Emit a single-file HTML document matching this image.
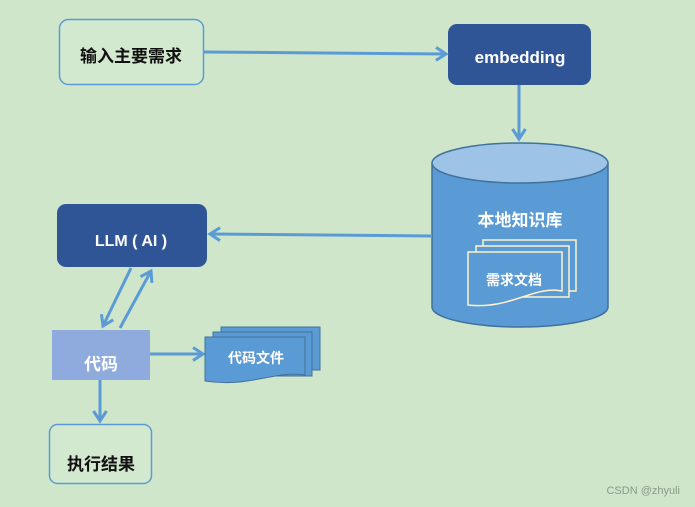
<!DOCTYPE html>
<html><head><meta charset="utf-8"><style>
html,body{margin:0;padding:0;background:#cfe6cb;}
svg{display:block}
text{font-family:"Liberation Sans","Noto Sans CJK SC",sans-serif;font-weight:bold;}
</style></head><body>
<svg width="695" height="507" viewBox="0 0 695 507" xmlns="http://www.w3.org/2000/svg">
<defs>
<marker id="a" markerWidth="14" markerHeight="16" refX="11" refY="8" orient="auto" markerUnits="userSpaceOnUse">
<path d="M1,1.5 L11,8 L1,14.5" fill="none" stroke="#5b9bd5" stroke-width="3"/>
</marker>
</defs>
<rect width="695" height="507" fill="#cfe6cb"/>
<rect x="59.5" y="19.5" width="144" height="65" rx="9" fill="#d3e9cf" stroke="#5b9bd5" stroke-width="1.5"/>
<text x="131" y="62" font-size="17" text-anchor="middle" fill="#111">输入主要需求</text>
<rect x="448" y="24" width="143" height="61" rx="9" fill="#2f5597"/>
<text x="520" y="63" font-size="17" text-anchor="middle" fill="#fff">embedding</text>
<line x1="204" y1="52" x2="446" y2="54" stroke="#5b9bd5" stroke-width="3" marker-end="url(#a)"/>
<line x1="519" y1="85" x2="519" y2="139" stroke="#5b9bd5" stroke-width="3" marker-end="url(#a)"/>
<path d="M432,163 L432,307 A88,20 0 0 0 608,307 L608,163" fill="#5b9bd5" stroke="#41719c" stroke-width="1.5"/>
<ellipse cx="520" cy="163" rx="88" ry="20" fill="#9dc3e6" stroke="#41719c" stroke-width="1.5"/>
<text x="520" y="226" font-size="17" text-anchor="middle" fill="#fff">本地知识库</text>
<g fill="#5b9bd5" stroke="#fff2cc" stroke-width="1.5">
<rect x="483" y="240" width="93" height="51"/>
<rect x="476" y="246" width="93" height="51"/>
<path d="M468,252 L562,252 L562,291 C535,285 510,310 468,305 Z"/>
</g>
<text x="514" y="285" font-size="14" text-anchor="middle" fill="#fff">需求文档</text>
<line x1="432" y1="236" x2="210" y2="234" stroke="#5b9bd5" stroke-width="3" marker-end="url(#a)"/>
<rect x="57" y="204" width="150" height="63" rx="9" fill="#2f5597"/>
<text x="131" y="246" font-size="16" text-anchor="middle" fill="#fff">LLM ( AI )</text>
<line x1="131" y1="268" x2="103" y2="326" stroke="#5b9bd5" stroke-width="3" marker-end="url(#a)"/>
<line x1="120" y1="328" x2="151" y2="271" stroke="#5b9bd5" stroke-width="3" marker-end="url(#a)"/>
<rect x="52" y="330" width="98" height="50" fill="#8faadc"/>
<text x="101" y="370" font-size="17" text-anchor="middle" fill="#fff">代码</text>
<line x1="150" y1="354" x2="203" y2="354" stroke="#5b9bd5" stroke-width="3" marker-end="url(#a)"/>
<g fill="#5b9bd5" stroke="#41719c" stroke-width="1">
<rect x="221" y="327" width="99" height="43"/>
<rect x="213" y="332" width="99" height="44"/>
<path d="M205,337 L305,337 L305,375 C275,370 250,388 205,381 Z"/>
</g>
<text x="256" y="363" font-size="14" text-anchor="middle" fill="#fff">代码文件</text>
<line x1="100" y1="380" x2="100" y2="421" stroke="#5b9bd5" stroke-width="3" marker-end="url(#a)"/>
<rect x="49.5" y="424.5" width="102" height="59" rx="8" fill="#d3e9cf" stroke="#5b9bd5" stroke-width="1.5"/>
<text x="101" y="470" font-size="17" text-anchor="middle" fill="#111">执行结果</text>
<text x="680" y="494" font-size="11" text-anchor="end" fill="#8a9a8a" style="font-weight:normal">CSDN @zhyuli</text>
</svg>
</body></html>
